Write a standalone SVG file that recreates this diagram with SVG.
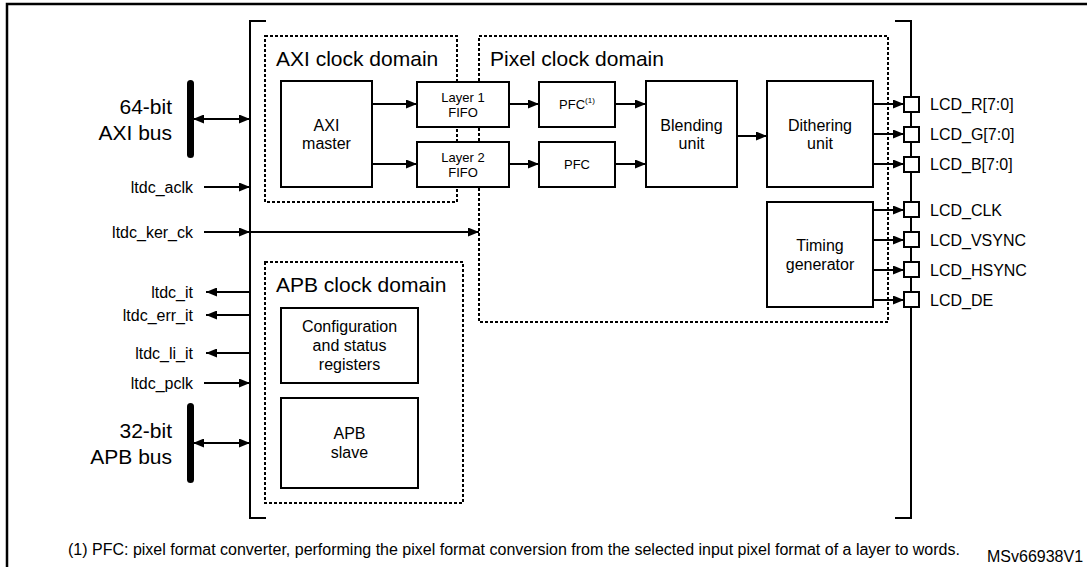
<svg xmlns="http://www.w3.org/2000/svg" width="1087" height="567" viewBox="0 0 1087 567">
<defs>
<style>
text{font-family:"Liberation Sans",Arial,sans-serif;fill:#000}
.box{fill:#fff;stroke:#000;stroke-width:2}
.dom{fill:none;stroke:#000;stroke-width:2;stroke-dasharray:3 2}
.ln{fill:none;stroke:#000;stroke-width:2}
.w{stroke:#000;stroke-width:2;fill:none;marker-end:url(#ah)}
.wb{stroke:#000;stroke-width:2;fill:none;marker-end:url(#ah);marker-start:url(#ah)}
.lbl{font-size:16px}
.sm{font-size:13px}
.dt{font-size:21px}
.bus{font-size:21px}
.sq{fill:#fff;stroke:#000;stroke-width:2}
</style>
<marker id="ah" viewBox="0 0 11 9" refX="11" refY="4.5" markerWidth="11" markerHeight="9" markerUnits="userSpaceOnUse" orient="auto-start-reverse">
<path d="M0,0 L11,4.5 L0,9 z" fill="#000"/>
</marker>
</defs>
<rect width="1087" height="567" fill="#fff"/>
<path d="M7,567 V4 H1087" fill="none" stroke="#000" stroke-width="2.5"/>

<g id="frame">
<path class="ln" d="M266,21 H250 V518 H266"/>
<path class="ln" d="M895,21 H911 V518 H895"/>
</g>

<g id="axi-domain">
<rect class="dom" x="265" y="36" width="192" height="166"/>
<text class="dt" x="276" y="66">AXI clock domain</text>
</g>
<g id="pixel-domain">
<rect class="dom" x="479" y="36" width="409" height="286"/>
<text class="dt" x="490" y="66">Pixel clock domain</text>
</g>
<g id="apb-domain">
<rect class="dom" x="265" y="262" width="198" height="241"/>
<text class="dt" x="276" y="292">APB clock domain</text>
</g>

<g id="axi-bus">
<rect x="187" y="80" width="7" height="78" rx="3.5" fill="#000"/>
<text class="bus" x="172" y="113.5" text-anchor="end">64-bit</text>
<text class="bus" x="172" y="139.5" text-anchor="end">AXI bus</text>
</g>
<g id="apb-bus">
<rect x="187" y="403" width="7" height="80" rx="3.5" fill="#000"/>
<text class="bus" x="172" y="437.5" text-anchor="end">32-bit</text>
<text class="bus" x="172" y="463.5" text-anchor="end">APB bus</text>
</g>

<g id="signals-left">
<text class="lbl" x="193" y="193" text-anchor="end">ltdc_aclk</text>
<text class="lbl" x="193" y="238" text-anchor="end">ltdc_ker_ck</text>
<text class="lbl" x="193" y="298" text-anchor="end">ltdc_it</text>
<text class="lbl" x="193" y="321" text-anchor="end">ltdc_err_it</text>
<text class="lbl" x="193" y="359" text-anchor="end">ltdc_li_it</text>
<text class="lbl" x="193" y="389" text-anchor="end">ltdc_pclk</text>
</g>

<g id="axi-master">
<rect class="box" x="281" y="81" width="91" height="106"/>
<text class="lbl" x="326.5" y="131" text-anchor="middle">AXI</text>
<text class="lbl" x="326.5" y="149" text-anchor="middle">master</text>
</g>
<g id="layer1-fifo">
<rect class="box" x="417" y="82" width="92" height="45"/>
<text class="sm" x="463" y="101.5" text-anchor="middle">Layer 1</text>
<text class="sm" x="463" y="116.5" text-anchor="middle">FIFO</text>
</g>
<g id="layer2-fifo">
<rect class="box" x="417" y="142" width="92" height="45"/>
<text class="sm" x="463" y="161.5" text-anchor="middle">Layer 2</text>
<text class="sm" x="463" y="176.5" text-anchor="middle">FIFO</text>
</g>
<g id="pfc1">
<rect class="box" x="539" y="82" width="76" height="45"/>
<text class="sm" x="577" y="108.5" text-anchor="middle">PFC<tspan font-size="8" dy="-6">(1)</tspan></text>
</g>
<g id="pfc2">
<rect class="box" x="539" y="142" width="76" height="45"/>
<text class="sm" x="577" y="168.5" text-anchor="middle">PFC</text>
</g>
<g id="blending">
<rect class="box" x="646" y="81" width="91" height="106"/>
<text class="lbl" x="691.5" y="131" text-anchor="middle">Blending</text>
<text class="lbl" x="691.5" y="149" text-anchor="middle">unit</text>
</g>
<g id="dithering">
<rect class="box" x="767" y="81" width="106" height="106"/>
<text class="lbl" x="820" y="131" text-anchor="middle">Dithering</text>
<text class="lbl" x="820" y="149" text-anchor="middle">unit</text>
</g>
<g id="timing">
<rect class="box" x="767" y="202" width="106" height="105"/>
<text class="lbl" x="820" y="251" text-anchor="middle">Timing</text>
<text class="lbl" x="820" y="270" text-anchor="middle">generator</text>
</g>
<g id="config">
<rect class="box" x="281" y="308" width="137" height="75"/>
<text class="lbl" x="349.5" y="332" text-anchor="middle">Configuration</text>
<text class="lbl" x="349.5" y="351" text-anchor="middle">and status</text>
<text class="lbl" x="349.5" y="370" text-anchor="middle">registers</text>
</g>
<g id="apb-slave">
<rect class="box" x="281" y="398" width="137" height="90"/>
<text class="lbl" x="349.5" y="439" text-anchor="middle">APB</text>
<text class="lbl" x="349.5" y="458" text-anchor="middle">slave</text>
</g>

<g id="connectors">
<line class="wb" x1="193" y1="119" x2="250" y2="119"/>
<line class="w" x1="204" y1="187" x2="250" y2="187"/>
<line class="w" x1="204" y1="232" x2="250" y2="232"/>
<line class="w" x1="250" y1="232" x2="479" y2="232"/>
<line class="w" x1="250" y1="292" x2="206" y2="292"/>
<line class="w" x1="250" y1="315" x2="206" y2="315"/>
<line class="w" x1="250" y1="353" x2="206" y2="353"/>
<line class="w" x1="204" y1="383" x2="250" y2="383"/>
<line class="wb" x1="193" y1="443" x2="250" y2="443"/>
<line class="w" x1="372" y1="104" x2="417" y2="104"/>
<line class="w" x1="372" y1="164" x2="417" y2="164"/>
<line class="w" x1="509" y1="104" x2="539" y2="104"/>
<line class="w" x1="509" y1="164" x2="539" y2="164"/>
<line class="w" x1="615" y1="104" x2="646" y2="104"/>
<line class="w" x1="615" y1="164" x2="646" y2="164"/>
<line class="w" x1="737" y1="136" x2="767" y2="136"/>
<line class="w" x1="873" y1="104" x2="904" y2="104"/>
<line class="w" x1="873" y1="134" x2="904" y2="134"/>
<line class="w" x1="873" y1="164" x2="904" y2="164"/>
<line class="w" x1="873" y1="210" x2="904" y2="210"/>
<line class="w" x1="873" y1="240" x2="904" y2="240"/>
<line class="w" x1="873" y1="270" x2="904" y2="270"/>
<line class="w" x1="873" y1="300" x2="904" y2="300"/>
</g>

<g id="pins">
<rect class="sq" x="904" y="97" width="15" height="15"/>
<rect class="sq" x="904" y="127" width="15" height="15"/>
<rect class="sq" x="904" y="157" width="15" height="15"/>
<rect class="sq" x="904" y="202" width="15" height="15"/>
<rect class="sq" x="904" y="232" width="15" height="15"/>
<rect class="sq" x="904" y="262" width="15" height="15"/>
<rect class="sq" x="904" y="292" width="15" height="15"/>
<text class="lbl" x="930" y="110">LCD_R[7:0]</text>
<text class="lbl" x="930" y="140">LCD_G[7:0]</text>
<text class="lbl" x="930" y="170">LCD_B[7:0]</text>
<text class="lbl" x="930" y="215.5">LCD_CLK</text>
<text class="lbl" x="930" y="245.5">LCD_VSYNC</text>
<text class="lbl" x="930" y="275.5">LCD_HSYNC</text>
<text class="lbl" x="930" y="305.5">LCD_DE</text>
</g>

<text class="lbl" x="68" y="554.5">(1) PFC: pixel format converter, performing the pixel format conversion from the selected input pixel format of a layer to words.</text>
<text class="lbl" x="987" y="561.5">MSv66938V1</text>
</svg>
